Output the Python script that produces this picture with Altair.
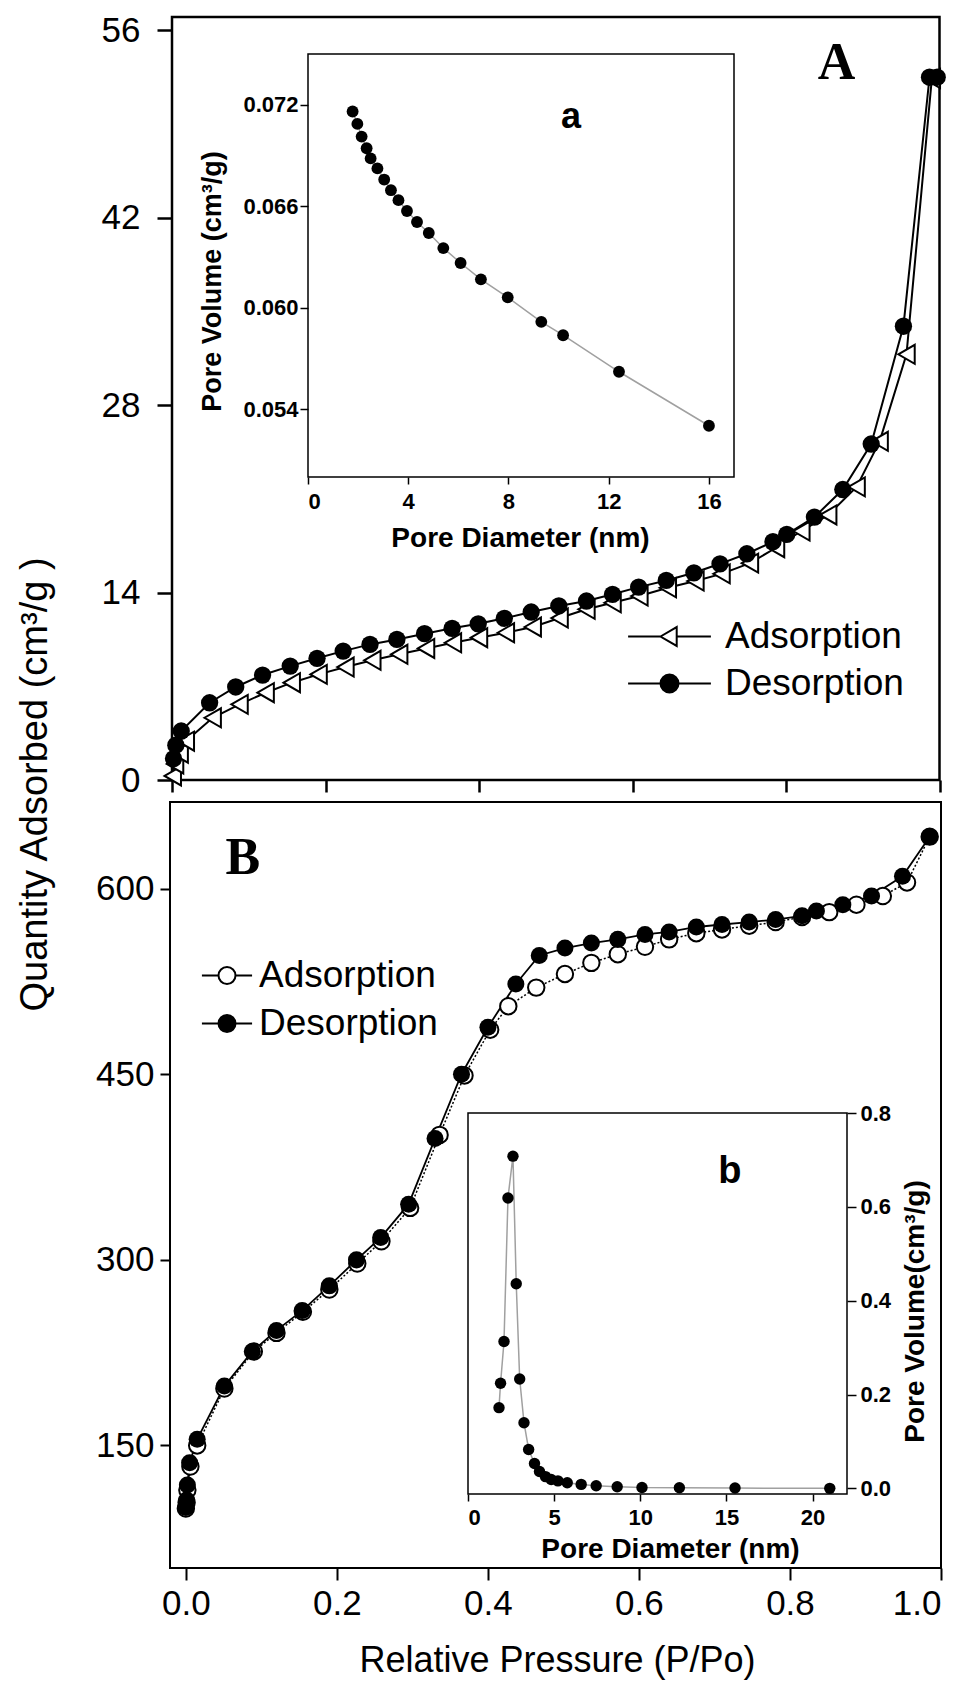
import altair as alt
import pandas as pd

# ---------------- data ----------------
# Panel A isotherm
A_ads_p = [0.001, 0.004, 0.010, 0.018, 0.053, 0.088, 0.122, 0.156, 0.191, 0.226, 0.261, 0.296,
           0.331, 0.366, 0.400, 0.435, 0.470, 0.505, 0.540, 0.574, 0.609, 0.646, 0.682, 0.716,
           0.753, 0.787, 0.820, 0.855, 0.892, 0.922, 0.957, 0.990]
A_ads_q = [0.3, 1.2, 2.0, 2.9, 4.65, 5.65, 6.52, 7.27, 7.89, 8.44, 8.94, 9.39,
           9.83, 10.25, 10.63, 11.0, 11.43, 12.1, 12.75, 13.24, 13.74, 14.36, 14.86, 15.4,
           16.2, 17.35, 18.6, 19.8, 21.9, 25.3, 31.8, 52.4]
A_des_p = [0.002, 0.005, 0.012, 0.049, 0.083, 0.118, 0.154, 0.189, 0.223, 0.258, 0.293, 0.329,
           0.365, 0.399, 0.433, 0.468, 0.504, 0.540, 0.574, 0.608, 0.644, 0.680, 0.714, 0.749,
           0.783, 0.801, 0.837, 0.874, 0.911, 0.953, 0.987, 0.997]
A_des_q = [1.6, 2.6, 3.66, 5.77, 6.95, 7.84, 8.51, 9.09, 9.63, 10.13, 10.5, 10.93,
           11.33, 11.67, 12.08, 12.55, 13.0, 13.37, 13.87, 14.41, 14.91, 15.48, 16.15, 16.9,
           17.8, 18.35, 19.64, 21.7, 25.1, 33.9, 52.5, 52.5]

# Inset a (pore size)
a_d = [1.78, 1.97, 2.14, 2.34, 2.50, 2.77, 3.04, 3.31, 3.61, 3.95, 4.35, 4.82, 5.40, 6.09,
       6.90, 7.97, 9.31, 10.18, 12.41, 16.0]
a_v = [0.0716, 0.07087, 0.07012, 0.06943, 0.06883, 0.06824, 0.06758, 0.06695, 0.06636, 0.06572,
       0.06507, 0.06442, 0.06353, 0.06265, 0.06168, 0.06062, 0.05917, 0.05838, 0.05622, 0.05303]

# Panel B isotherm
B_ads_p = [0.0, 0.001, 0.002, 0.006, 0.015, 0.051, 0.090, 0.120, 0.155, 0.190, 0.227, 0.259,
           0.297, 0.336, 0.369, 0.403, 0.427, 0.464, 0.502, 0.537, 0.572, 0.608, 0.640, 0.676,
           0.710, 0.746, 0.781, 0.816, 0.852, 0.888, 0.923, 0.955, 0.985]
B_ads_q = [99, 104, 114, 133, 150, 196, 226, 241, 258, 276, 297, 315,
           342, 401, 449, 486, 505, 520, 531, 540, 547, 553, 559, 564,
           567, 570, 573, 577, 581, 587, 594, 605, 642]
B_des_p = [0.0, 0.001, 0.002, 0.005, 0.015, 0.051, 0.088, 0.120, 0.154, 0.190, 0.226, 0.258,
           0.295, 0.330, 0.365, 0.400, 0.437, 0.468, 0.502, 0.537, 0.572, 0.608, 0.640, 0.676,
           0.710, 0.746, 0.781, 0.816, 0.835, 0.870, 0.908, 0.949, 0.985]
B_des_q = [100, 106, 118, 136, 155, 198, 226, 243, 259, 279, 300, 318,
           345, 398, 450, 488, 523, 546, 552, 556, 559, 563, 565, 569,
           571, 573, 575, 578, 582, 587, 594, 610, 642]

# Inset b (pore size distribution)
b_d = [1.80, 1.89, 2.09, 2.32, 2.61, 2.80, 3.00, 3.25, 3.52, 3.86, 4.15, 4.50, 4.83, 5.22,
       5.76, 6.57, 7.44, 8.66, 10.1, 12.27, 15.5, 21.0]
b_v = [0.172, 0.224, 0.313, 0.619, 0.708, 0.436, 0.233, 0.140, 0.083, 0.053, 0.036, 0.025,
       0.019, 0.016, 0.012, 0.0085, 0.0057, 0.0036, 0.002, 0.0014, 0.0007, 0.0]

series = ["Adsorption", "Desorption"]

# axis domains
A_xdom, A_ydom = [0, 1.0], [0, 57]
a_xdom, a_ydom = [0, 17], [0.050, 0.075]
B_xdom, B_ydom = [-0.021, 1.0], [51, 670]
b_xdom, b_ydom = [0, 22], [-0.012, 0.8]

# ---------------- layout (pixels inside the chart) ----------------
W, H = 950, 1674
FONT = "Liberation Sans"
SERIF = "Liberation Serif"

A_xr, A_yr = [164, 931.5], [772, 9]
a_xr, a_yr = [300, 726], [469, 46]
B_xr, B_yr = [162, 933], [1560, 794]
b_xr, b_yr = [460, 839], [1486, 1105]


def sc(dom, rng):
    return alt.Scale(domain=dom, range=rng, nice=False, zero=False)


def XY(xf, yf, xs, ys, xaxis=None, yaxis=None):
    return dict(x=alt.X(f"{xf}:Q", scale=xs, axis=xaxis),
                y=alt.Y(f"{yf}:Q", scale=ys, axis=yaxis))


sAx, sAy = sc(A_xdom, A_xr), sc(A_ydom, A_yr)
sax, say = sc(a_xdom, a_xr), sc(a_ydom, a_yr)
sBx, sBy = sc(B_xdom, B_xr), sc(B_ydom, B_yr)
sbx, sby = sc(b_xdom, b_xr), sc(b_ydom, b_yr)

common_axis = dict(grid=False, domain=False, tickColor="black", labelColor="black",
                   titleColor="black", labelFont=FONT, titleFont=FONT)

layers = []


# ---------- frames with axes ----------
def frame(xdom, ydom, xs, ys, sw, xaxis, yaxis):
    df = pd.DataFrame({"x0": [xdom[0]], "x1": [xdom[1]], "y0": [ydom[0]], "y1": [ydom[1]]})
    return alt.Chart(df).mark_rect(fillOpacity=0, stroke="black", strokeWidth=sw).encode(
        x=alt.X("x0:Q", scale=xs, axis=xaxis), x2="x1:Q",
        y=alt.Y("y0:Q", scale=ys, axis=yaxis), y2="y1:Q")


axAx = alt.Axis(orient="bottom", offset=A_yr[0] - H, values=[0, 0.2, 0.4, 0.6, 0.8, 1.0],
                labels=False, tickSize=12, tickWidth=2.5, title=None, **common_axis)
axAy = alt.Axis(orient="left", offset=-A_xr[0], values=[0, 14, 28, 42, 56], tickSize=15,
                tickWidth=2.5, labelFontSize=35, labelPadding=17,
                title="Quantity Adsorbed (cm³/g )", titleFontSize=38, titleFontWeight="normal",
                titleAngle=270, titleX=27 - A_xr[0], titleY=776, titleAlign="center",
                titleBaseline="middle", **common_axis)
layers.append(frame(A_xdom, A_ydom, sAx, sAy, 2.5, axAx, axAy))

axax = alt.Axis(orient="bottom", offset=a_yr[0] - H, values=[0, 4, 8, 12, 16], tickSize=7,
                tickWidth=1.5, labelFontSize=22, labelFontWeight="bold", labelPadding=7,
                title="Pore Diameter (nm)", titleFontSize=28, titleFontWeight="bold",
                titleX=512, titleY=61, titleAlign="center", titleBaseline="middle", **common_axis)
axay = alt.Axis(orient="left", offset=-a_xr[0], values=[0.054, 0.060, 0.066, 0.072], format=".3f",
                tickSize=8, tickWidth=1.5, labelFontSize=22, labelFontWeight="bold", labelPadding=2,
                title="Pore Volume (cm³/g)", titleFontSize=27, titleFontWeight="bold",
                titleAngle=270, titleX=-96, titleY=273, titleAlign="center",
                titleBaseline="middle", **common_axis)
layers.append(frame(a_xdom, a_ydom, sax, say, 1.5, axax, axay))

axBx = alt.Axis(orient="bottom", offset=B_yr[0] - H, values=[0, 0.2, 0.4, 0.6, 0.8, 1.0],
                format=".1f", tickSize=12, tickWidth=2, labelFontSize=35, labelPadding=6,
                title="Relative Pressure (P/Po)", titleFontSize=36, titleFontWeight="normal",
                titleX=549, titleY=92, titleAlign="center", titleBaseline="middle", **common_axis)
axBy = alt.Axis(orient="left", offset=-B_xr[0], values=[150, 300, 450, 600], tickSize=10,
                tickWidth=2, labelFontSize=35, labelPadding=6, title=None, **common_axis)
layers.append(frame(B_xdom, B_ydom, sBx, sBy, 2, axBx, axBy))

axbx = alt.Axis(orient="bottom", offset=b_yr[0] - H, values=[0, 5, 10, 15, 20], tickSize=7,
                tickWidth=1.5, labelFontSize=22, labelFontWeight="bold", labelPadding=6,
                title="Pore Diameter (nm)", titleFontSize=28, titleFontWeight="bold",
                titleX=662, titleY=55, titleAlign="center", titleBaseline="middle", **common_axis)
axby = alt.Axis(orient="right", offset=b_xr[1] - W, values=[0, 0.2, 0.4, 0.6, 0.8], format=".1f",
                tickSize=9, tickWidth=1.5, labelFontSize=22, labelFontWeight="bold", labelPadding=4,
                title="Pore Volume(cm³/g)", titleFontSize=28, titleFontWeight="bold",
                titleAngle=270, titleX=68, titleY=1303, titleAlign="center",
                titleBaseline="middle", **common_axis)
layers.append(frame(b_xdom, b_ydom, sbx, sby, 1.5, axbx, axby))

# ---------- panel A data ----------
dfAa = pd.DataFrame({"p": A_ads_p, "q": A_ads_q})
dfAd = pd.DataFrame({"p": A_des_p, "q": A_des_q})
layers.append(alt.Chart(dfAa).mark_line(color="black", strokeWidth=2).encode(**XY("p", "q", sAx, sAy)))
layers.append(alt.Chart(dfAd).mark_line(color="black", strokeWidth=2).encode(**XY("p", "q", sAx, sAy)))
layers.append(alt.Chart(dfAa).mark_point(shape="triangle-left", size=360, filled=True, fill="white",
                                         stroke="black", strokeWidth=2, opacity=1)
              .encode(**XY("p", "q", sAx, sAy)))
layers.append(alt.Chart(dfAd).mark_circle(size=300, color="black", opacity=1)
              .encode(**XY("p", "q", sAx, sAy)))

# ---------- inset a ----------
dfa = pd.DataFrame({"d": a_d, "v": a_v})
layers.append(alt.Chart(dfa).mark_line(color="#a0a0a0", strokeWidth=1.5).encode(**XY("d", "v", sax, say)))
layers.append(alt.Chart(dfa).mark_circle(size=140, color="black", opacity=1).encode(**XY("d", "v", sax, say)))

# ---------- panel B data ----------
dfBa = pd.DataFrame({"p": B_ads_p, "q": B_ads_q})
dfBd = pd.DataFrame({"p": B_des_p, "q": B_des_q})
layers.append(alt.Chart(dfBa).mark_line(color="black", strokeWidth=1.5, strokeDash=[2, 2])
              .encode(**XY("p", "q", sBx, sBy)))
layers.append(alt.Chart(dfBd).mark_line(color="black", strokeWidth=1.8).encode(**XY("p", "q", sBx, sBy)))
layers.append(alt.Chart(dfBa).mark_point(shape="circle", size=270, filled=True, fill="white",
                                         stroke="black", strokeWidth=2, opacity=1)
              .encode(**XY("p", "q", sBx, sBy)))
layers.append(alt.Chart(dfBd).mark_circle(size=290, color="black", opacity=1)
              .encode(**XY("p", "q", sBx, sBy)))

# ---------- inset b ----------
dfb = pd.DataFrame({"d": b_d, "v": b_v})
layers.append(alt.Chart(dfb).mark_line(color="#a0a0a0", strokeWidth=1.5).encode(**XY("d", "v", sbx, sby)))
layers.append(alt.Chart(dfb).mark_circle(size=130, color="black", opacity=1).encode(**XY("d", "v", sbx, sby)))


# ---------- panel letters ----------
def letter(t, x, y, xs, ys, font, size):
    df = pd.DataFrame({"x": [x], "y": [y], "t": [t]})
    return alt.Chart(df).mark_text(font=font, fontSize=size, fontWeight="bold", color="black",
                                   align="center", baseline="middle").encode(
        **XY("x", "y", xs, ys), text="t:N")


layers.append(letter("A", 0.866, 53.6, sAx, sAy, SERIF, 52))
layers.append(letter("a", 10.5, 0.0713, sax, say, FONT, 36))
layers.append(letter("B", 0.0755, 625, sBx, sBy, SERIF, 52))
layers.append(letter("b", 15.2, 0.674, sbx, sby, FONT, 38))

# ---------- legends (line + marker symbols) ----------
tri_path = "M-4.6,0H-1M0.8,0H4.6M-1,0L0.8,-1.05L0.8,1.05Z"
circ_path_A = "M-4.6,0H-1M1,0H4.6M-1,0A1,1,0,1,1,1,0A1,1,0,1,1,-1,0Z"
circ_path_B = "M-2.95,0H-1M1,0H2.95M-1,0A1,1,0,1,1,1,0A1,1,0,1,1,-1,0Z"

dleg = pd.DataFrame({"s": series})


def legend_layer(shapes, size, lx, ly, loff, rowpad):
    leg = alt.Legend(orient="none", legendX=lx, legendY=ly, title=None, padding=0,
                     symbolSize=size, symbolStrokeWidth=2, symbolOpacity=1,
                     labelFont=FONT, labelFontSize=37, labelColor="black",
                     labelOffset=loff, rowPadding=rowpad, labelLimit=400)
    return (alt.Chart(dleg).transform_filter("false")
            .mark_point(filled=True, strokeWidth=2, opacity=1, fillOpacity=1, strokeOpacity=1)
            .encode(
                shape=alt.Shape("s:N", scale=alt.Scale(domain=series, range=shapes), legend=leg),
                fill=alt.Fill("s:N", scale=alt.Scale(domain=series, range=["white", "black"]), legend=leg),
                stroke=alt.Stroke("s:N", scale=alt.Scale(domain=series, range=["black", "black"]), legend=leg)))


layers.append(legend_layer([tri_path, circ_path_A], 324, 643, 610, 37, 9))
layers.append(legend_layer([circ_path_B, circ_path_B], 289, 200.5, 949, 13.5, 10))

chart = (alt.layer(*layers)
         .resolve_scale(x="independent", y="independent", shape="independent",
                        fill="independent", stroke="independent")
         .resolve_axis(x="independent", y="independent")
         .resolve_legend(shape="independent", fill="independent", stroke="independent")
         .properties(width=W, height=H, autosize=alt.AutoSizeParams(type="none"), padding=0)
         .configure_view(stroke=None))

chart.save("out.html", embed_options={"renderer": "svg", "actions": False})
